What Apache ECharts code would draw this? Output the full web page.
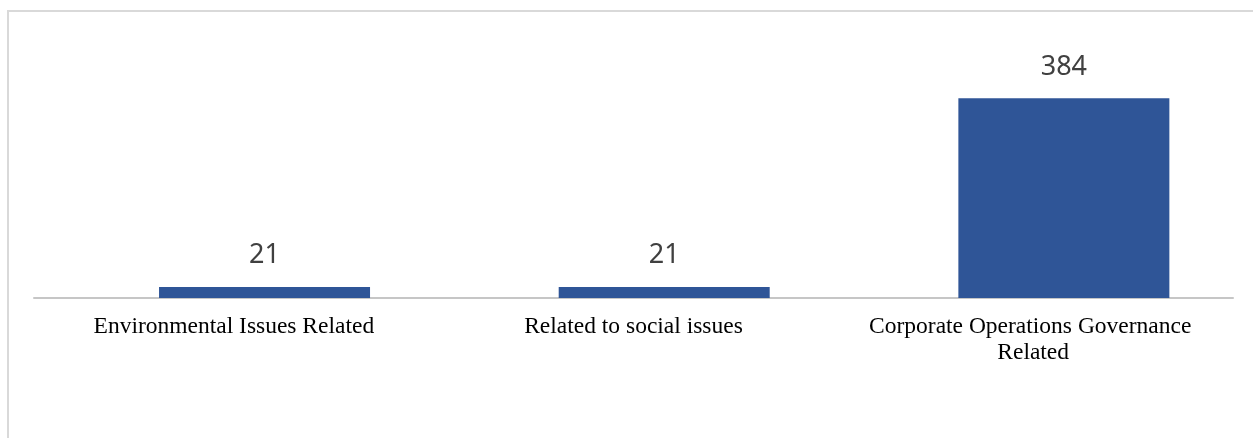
<!DOCTYPE html>
<html>
<head>
<meta charset="utf-8">
<script src="https://cdn.jsdelivr.net/npm/echarts@6/dist/echarts.min.js"></script>
<style>
  html, body { margin: 0; padding: 0; background: #ffffff; }
  #chart { width: 1258px; height: 438px; }
</style>
</head>
<body>
<div id="chart"></div>
<script>
// Number of items per ESG issue category
const categories = [
  'Environmental Issues Related',
  'Related to social issues',
  'Corporate Operations Governance Related'
];
const counts = [21, 21, 384];
// empty companion series: reserves the left slot so the counts sit right of the band centre
const emptySlot = [null, null, null];

const chart = echarts.init(document.getElementById('chart'), null, { renderer: 'canvas' });

chart.setOption({
  animation: false,
  backgroundColor: '#ffffff',
  graphic: [{
    // light frame along the left and top edges
    type: 'polyline',
    silent: true,
    shape: { points: [[8, 440], [8, 11], [1253, 11]] },
    style: { stroke: '#d9d9d9', lineWidth: 2, fill: null }
  }],
  grid: { left: 34, right: 25, top: 64, bottom: 140 },
  xAxis: {
    type: 'category',
    data: categories,
    axisLine: { lineStyle: { color: '#c6c6c6', width: 2 } },
    axisTick: { show: false },
    axisLabel: {
      interval: 0,
      margin: 16,
      color: '#000000',
      fontFamily: 'Liberation Serif',
      fontSize: 23.5,
      lineHeight: 26,
      width: 345,
      overflow: 'break',
      align: 'center'
    }
  },
  yAxis: {
    type: 'value',
    min: 0,
    max: 450,
    show: false,
    splitLine: { show: false }
  },
  series: [{
    type: 'bar',
    data: emptySlot,
    barWidth: 211,
    barGap: '-70.9%',
    silent: true
  }, {
    type: 'bar',
    data: counts,
    barWidth: 211,
    barGap: '-70.9%',
    itemStyle: { color: '#2F5597' },
    label: {
      show: true,
      position: 'top',
      distance: 18,
      color: '#404040',
      fontFamily: 'Noto Sans',
      fontSize: 27
    }
  }]
});
</script>
</body>
</html>
